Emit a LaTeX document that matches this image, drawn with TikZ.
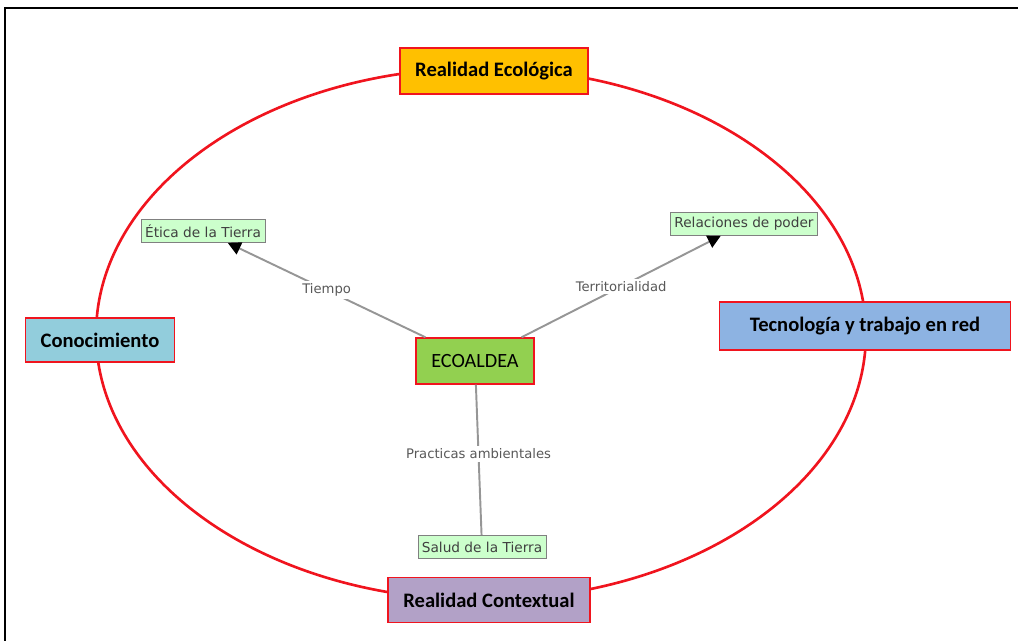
\documentclass[tikz,border=0pt]{standalone}
\usepackage{fontspec}
\setmainfont{Carlito}
\newfontfamily\smallfont{DejaVu Sans}
\usetikzlibrary{arrows.meta}
\definecolor{ringred}{RGB}{240,20,30}
\definecolor{ecoorange}{RGB}{255,192,0}
\definecolor{ecoblue}{RGB}{146,205,220}
\definecolor{ecosteel}{RGB}{141,179,226}
\definecolor{ecolilac}{RGB}{178,161,199}
\definecolor{ecogreen}{RGB}{146,208,80}
\definecolor{palegreen}{RGB}{204,255,204}
\definecolor{linkgray}{RGB}{150,150,150}

\begin{document}
\begin{tikzpicture}
[x=0.02cm,y=-0.02cm,
 main/.style={draw=ringred,thick,rectangle,inner sep=0mm,font=\bfseries\fontsize{11.7}{13}\selectfont},
 core/.style={draw=ringred,thick,rectangle,fill=ecogreen,minimum width=2.36cm,minimum height=0.92cm,font=\fontsize{11.5}{13}\selectfont},
 leaf/.style={draw=gray,fill=palegreen,rectangle,inner sep=0.8mm,minimum height=0.46cm,text=black!75,font=\smallfont\fontsize{7.8}{9}\selectfont},
 link/.style={draw=linkgray,line width=1.1pt},
 linklabel/.style={fill=white,inner sep=0.5mm,text=black!65,font=\smallfont\fontsize{7.5}{9}\selectfont}]
\useasboundingbox (0,0) rectangle (1018,641);
% frame
\draw[line width=1.6pt] (5,641) -- (5,8) -- (1018,8);
% ring
\draw[ringred,line width=1.5pt] (481,334) ellipse [x radius=7.7cm,y radius=5.32cm];
% outer boxes
\node[main,fill=ecoorange,minimum width=3.76cm,minimum height=0.92cm] (ecol) at (494,71)  {Realidad Ecológica};
\node[main,fill=ecoblue,  minimum width=2.98cm,minimum height=0.88cm] (cono) at (100,340) {Conocimiento};
\node[main,fill=ecosteel, minimum width=5.82cm,minimum height=0.96cm] (tecn) at (865,326) {Tecnología y trabajo en red};
\node[main,fill=ecolilac, minimum width=4.04cm,minimum height=0.9cm]  (cont) at (489,600) {Realidad Contextual};
% centre
\node[core] (eco) at (475,361) {ECOALDEA};
% leaves
\node[leaf] (etica) at (203,231) {Ética de la Tierra};
\node[leaf] (poder) at (744,224) {Relaciones de poder};
\node[leaf] (salud) at (482,547) {Salud de la Tierra};
% links
\draw[link,-{Triangle[length=2.6mm,width=2.6mm,color=black]}] (eco) -- node[linklabel] {Tiempo} (etica);
\draw[link,-{Triangle[length=2.6mm,width=2.6mm,color=black]}] (eco) -- node[linklabel] {Territorialidad} (poder);
\draw[link] (eco) -- node[linklabel,pos=0.46] {Practicas ambientales} (salud);
\end{tikzpicture}
\end{document}
